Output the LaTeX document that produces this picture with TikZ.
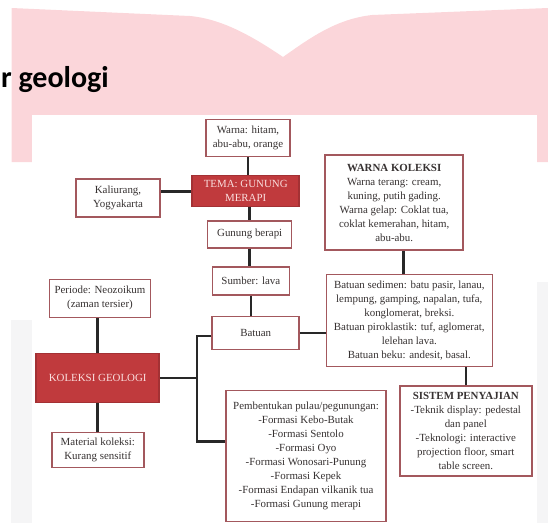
\documentclass[tikz,border=0pt]{standalone}
\usepackage{fontspec}
\setmainfont{Liberation Serif}
\newfontfamily\judulfont{Carlito}
\definecolor{bukupink}{RGB}{251,214,218}
\definecolor{slideabu}{RGB}{245,245,246}
\definecolor{garistepi}{RGB}{163,88,93}
\definecolor{merahmerapi}{RGB}{192,58,61}
\definecolor{tekskotak}{RGB}{55,50,50}
\definecolor{teksmerah}{RGB}{250,222,222}
\definecolor{garishubung}{RGB}{40,40,40}
\begin{document}
\begin{tikzpicture}[x=1pt,y=-1pt,
	kotak/.style={draw=garistepi,line width=1.5pt,fill=white,align=center,text=tekskotak,inner sep=0pt,font=\fontsize{10.9}{14}\selectfont},
	kotakmerah/.style={kotak,fill=merahmerapi,draw=merahmerapi!85!black,text=teksmerah},
	hubung/.style={garishubung,line width=2.6pt}]
	\useasboundingbox (0,0) rectangle (548,523);

	% latar belakang slide
	\fill[slideabu] (11,320) rectangle (32,523);
	\fill[slideabu] (537,282) rectangle (548,523);
	\fill[bukupink] (11.7,8) -- (190,16) .. controls (222,19) and (252,36) .. (283,57) .. controls (310,38) and (336,19) .. (372,15) -- (548,8) -- (548,162) -- (11.7,162) -- cycle;
	\fill[white] (32,115) rectangle (537,523);
	\node[anchor=base west,font=\judulfont\bfseries\fontsize{30}{36}\selectfont] (judul) at (-2.4,87) {r geologi};

	\node[kotak,minimum width=84pt,minimum height=37pt] (warna) at (248,138) {Warna: hitam,\\abu-abu, orange};
	\node[kotakmerah,minimum width=107pt,minimum height=31pt] (tema) at (245.7,191.2) {TEMA: GUNUNG\\MERAPI};
	\node[kotak,minimum width=84pt,minimum height=38pt] (kaliurang) at (118,197.8) {Kaliurang,\\Yogyakarta};
	\node[kotak,minimum width=84pt,minimum height=27pt] (gunung) at (249.7,234.3) {Gunung berapi};
	\node[kotak,minimum width=77pt,minimum height=28pt] (sumber) at (250.8,280.8) {Sumber: lava};
	\node[kotak,minimum width=87pt,minimum height=33pt] (batuan) at (255.7,333) {Batuan};
	\node[kotak,minimum width=138pt,minimum height=95pt] (warnakoleksi) at (394.2,202.5) {\textbf{WARNA KOLEKSI}\\Warna terang: cream,\\kuning, putih gading.\\Warna gelap: Coklat tua,\\coklat kemerahan, hitam,\\abu-abu.};
	\node[kotak,minimum width=166pt,minimum height=92pt] (sedimen) at (409.3,320.5) {Batuan sedimen: batu pasir, lanau,\\lempung, gamping, napalan, tufa,\\konglomerat, breksi.\\Batuan piroklastik: tuf, aglomerat,\\lelehan lava.\\Batuan beku: andesit, basal.};
	\node[kotak,minimum width=101pt,minimum height=38pt] (periode) at (100,298.3) {Periode: Neozoikum\\(zaman tersier)};
	\node[kotakmerah,minimum width=123pt,minimum height=49pt] (koleksi) at (97.7,378) {KOLEKSI GEOLOGI};
	\node[kotak,minimum width=92pt,minimum height=35pt] (material) at (97.8,450) {Material koleksi:\\Kurang sensitif};
	\node[kotak,minimum width=160pt,minimum height=131pt] (pembentukan) at (306,456.2) {Pembentukan pulau/pegunungan:\\-Formasi Kebo-Butak\\-Formasi Sentolo\\-Formasi Oyo\\-Formasi Wonosari-Punung\\-Formasi Kepek\\-Formasi Endapan vilkanik tua\\-Formasi Gunung merapi};
	\node[kotak,minimum width=132pt,minimum height=90pt] (sistem) at (465.8,431) {\textbf{SISTEM PENYAJIAN}\\-Teknik display: pedestal\\dan panel\\-Teknologi: interactive\\projection floor, smart\\table screen.};

	% garis penghubung
	\draw[hubung] (warna.south) -- (warna.south |- tema.north);
	\draw[hubung] (tema.west) -- (tema.west -| kaliurang.east);
	\draw[hubung] (gunung.north) -- (gunung.north |- tema.south);
	\draw[hubung] (gunung.south) -- (gunung.south |- sumber.north);
	\draw[hubung] (sumber.south) -- (sumber.south |- batuan.north);
	\draw[hubung] (batuan.east) -- (batuan.east -| sedimen.west);
	\draw[hubung] ([xshift=9pt]warnakoleksi.south) -- ([xshift=9pt]warnakoleksi.south |- sedimen.north);
	\draw[hubung] (sistem.north) -- (sistem.north |- sedimen.south);
	\draw[hubung] (koleksi.north) -- (koleksi.north |- periode.south);
	\draw[hubung] (koleksi.south) -- (koleksi.south |- material.north);
	\coordinate (cabang) at (197,378);
	\draw[hubung] (koleksi.east) -- (cabang);
	\draw[hubung] ([yshift=-3pt]batuan.west) -| (cabang) |- ([yshift=14.5pt]pembentukan.west);
\end{tikzpicture}
\end{document}
